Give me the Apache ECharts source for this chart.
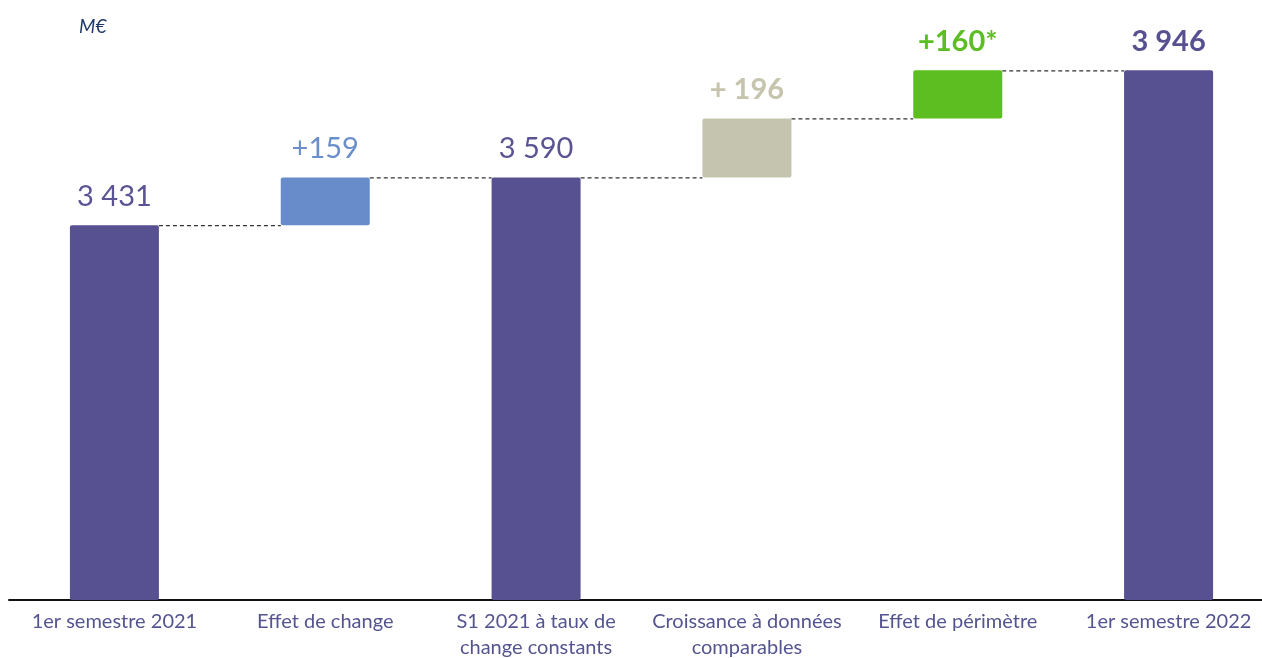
<!DOCTYPE html>
<html>
<head>
<meta charset="utf-8">
<script src="https://cdn.jsdelivr.net/npm/echarts@6/dist/echarts.min.js"></script>
<style>
  html, body { margin: 0; padding: 0; background: #fff; }
  #chart { width: 1262px; height: 658px; }
</style>
</head>
<body>
<div id="chart"></div>
<script>
// categories + values
var categories = [
  '1er semestre 2021',
  'Effet de change',
  'S1 2021 à taux de\nchange constants',
  'Croissance à données\ncomparables',
  'Effet de périmètre',
  '1er semestre 2022'
];
var barValues = [3431, 159, 3590, 196, 160, 3946];
var isTotal = [true, false, true, false, false, true];
var valueLabels = ['3 431', '+159', '3 590', '+ 196', '+160*', '3 946'];

var barColors = ['#575091', '#678cc9', '#575091', '#c5c4ae', '#5cbe21', '#575091'];
var labelColors = ['#5a5394', '#6a8fca', '#5a5394', '#c6c4ad', '#5cbe22', '#575091'];
var labelBold = [false, false, false, true, true, true];

var BAR_W = 89;

// invisible base under each delta bar, and running level after each bar
var baseValues = [];
var levels = [];
var running = 0;
barValues.forEach(function (v, i) {
  if (isTotal[i]) {
    baseValues.push(0);
    running = v;
  } else {
    baseValues.push(running);
    running = running + v;
  }
  levels.push(running);
});

var connectorData = [];
for (var i = 0; i < categories.length - 1; i++) {
  connectorData.push([i, levels[i]]);
}

var chart = echarts.init(document.getElementById('chart'));
chart.setOption({
  animation: false,
  title: {
    text: 'M€',
    left: 74,
    top: 12,
    textStyle: {
      fontFamily: 'Lato',
      fontStyle: 'italic',
      fontWeight: 'normal',
      fontSize: 19,
      color: '#1f3868'
    }
  },
  grid: {
    top: 24,
    bottom: 58,
    left: 9,
    right: -12,
    outerBoundsMode: 'none'
  },
  xAxis: {
    type: 'category',
    data: categories,
    axisLine: {
      lineStyle: { color: '#111', width: 2 }
    },
    axisTick: { show: false },
    axisLabel: {
      interval: 0,
      margin: 9,
      fontFamily: 'Lato',
      fontSize: 20,
      lineHeight: 26,
      color: '#545490'
    }
  },
  yAxis: {
    type: 'value',
    min: 2185,
    max: 4100,
    show: false,
    splitLine: { show: false }
  },
  series: [
    {
      name: 'base',
      type: 'bar',
      stack: 'w',
      barWidth: BAR_W,
      silent: true,
      itemStyle: { color: 'transparent' },
      data: baseValues
    },
    {
      name: 'valeur',
      type: 'bar',
      stack: 'w',
      barWidth: BAR_W,
      z: 3,
      data: barValues.map(function (v, i) {
        return {
          value: v,
          itemStyle: { color: barColors[i], borderRadius: 2 },
          label: {
            show: true,
            position: 'top',
            distance: 14,
            formatter: valueLabels[i],
            fontFamily: 'Lato',
            fontSize: 29,
            fontWeight: labelBold[i] ? 'bold' : 'normal',
            color: labelColors[i]
          }
        };
      })
    },
    {
      name: 'liens',
      type: 'custom',
      z: 2,
      silent: true,
      data: connectorData,
      renderItem: function (params, api) {
        var idx = api.value(0);
        var lvl = api.value(1);
        var p0 = api.coord([idx, lvl]);
        var p1 = api.coord([idx + 1, lvl]);
        return {
          type: 'line',
          shape: {
            x1: p0[0] + BAR_W / 2,
            y1: p0[1] + 0.5,
            x2: p1[0] - BAR_W / 2,
            y2: p1[1] + 0.5
          },
          style: {
            stroke: '#333',
            lineWidth: 1.2,
            lineDash: [4, 3]
          }
        };
      }
    }
  ]
});
</script>
</body>
</html>
